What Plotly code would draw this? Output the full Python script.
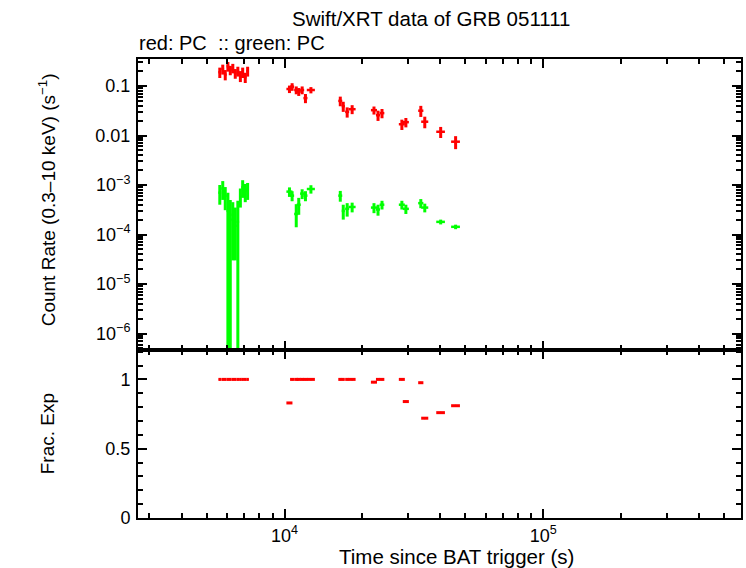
import plotly.graph_objects as go
import numpy as np

# ---------------- data ----------------
# time bins (s)
t_mid = [5620, 5770, 5900, 6040, 6170, 6310, 6450, 6600, 6750, 6890, 7050, 7200,
         10450, 10700, 11100, 11350, 11700, 12050, 12650,
         16430, 16870, 17470, 18260,
         22180, 22990, 23820,
         28430, 29460,
         33650, 34860,
         40160, 45870]
t_half = [70, 70, 70, 70, 70, 70, 75, 75, 75, 80, 80, 80,
          282, 193, 200, 204, 211, 217, 455,
          290, 230, 310, 570,
          600, 420, 500,
          760, 800,
          780, 1100,
          1550, 1800]

# red: PC count rate
red_rate = [0.19, 0.22, 0.17, 0.25, 0.21, 0.23, 0.18, 0.20, 0.16, 0.19, 0.15, 0.20,
            0.087, 0.097, 0.083, 0.077, 0.083, 0.057, 0.083,
            0.050, 0.039, 0.030, 0.034,
            0.0325, 0.0257, 0.0283,
            0.0169, 0.0186,
            0.0317, 0.0190,
            0.0119, 0.0075]
red_err = [0.045, 0.05, 0.04, 0.055, 0.045, 0.05, 0.04, 0.045, 0.04, 0.045, 0.035, 0.045,
           0.015, 0.017, 0.015, 0.014, 0.015, 0.012, 0.012,
           0.011, 0.009, 0.007, 0.007,
           0.006, 0.006, 0.006,
           0.004, 0.004,
           0.008, 0.005,
           0.003, 0.0022]

# green: PC
green_rate = [7.0e-4, 8.5e-4, 6.1e-4, 3.0e-4, 2.0e-4, 2.5e-4, 1.5e-4, 1.8e-4, 6.0e-4, 9.0e-4, 7.5e-4, 8.0e-4,
              7.35e-4, 6.1e-4, 2.6e-4, 4.0e-4, 6.7e-4, 6.1e-4, 8.3e-4,
              6.1e-4, 3.0e-4, 3.3e-4, 3.6e-4,
              3.5e-4, 3.2e-4, 4.0e-4,
              4.0e-4, 3.3e-4,
              4.3e-4, 3.5e-4,
              1.8e-4, 1.43e-4]
green_err_hi = [3.0e-4, 3.5e-4, 3.0e-4, 4.0e-4, 3.0e-4, 2.0e-4, 2.0e-4, 3.0e-4, 2.5e-4, 3.5e-4, 3.0e-4, 3.0e-4,
                1.6e-4, 1.4e-4, 1.5e-4, 1.5e-4, 1.5e-4, 1.4e-4, 1.6e-4,
                1.5e-4, 1.0e-4, 1.0e-4, 0.8e-4,
                0.8e-4, 0.8e-4, 0.8e-4,
                0.8e-4, 0.7e-4,
                0.9e-4, 0.7e-4,
                0.2e-4, 0.15e-4]
green_err_lo = [3.0e-4, 3.5e-4, 3.0e-4, 9.0e-4, 9.0e-4, 2.2e-4, 1.2e-4, 9.0e-4, 2.5e-4, 3.5e-4, 3.0e-4, 3.0e-4,
                1.6e-4, 1.4e-4, 1.2e-4, 1.5e-4, 1.5e-4, 1.4e-4, 1.6e-4,
                1.5e-4, 1.0e-4, 1.0e-4, 0.8e-4,
                0.8e-4, 0.8e-4, 0.8e-4,
                0.8e-4, 0.7e-4,
                0.9e-4, 0.7e-4,
                0.2e-4, 0.15e-4]

# fractional exposure
frac_exp = [1, 1, 1, 1, 1, 1, 1, 1, 1, 1, 1, 1,
            0.83, 1, 1, 1, 1, 1, 1,
            1, 1, 1, 1,
            0.98, 1, 1,
            1, 0.84,
            0.976, 0.72,
            0.76, 0.81]

x_tickvals = [1e4, 1e5]
x_ticktext = ["10<sup>4</sup>", "10<sup>5</sup>"]
y_tickvals = [0.1, 0.01, 1e-3, 1e-4, 1e-5, 1e-6]
y_ticktext = ["0.1", "0.01", "10<sup>−3</sup>", "10<sup>−4</sup>", "10<sup>−5</sup>", "10<sup>−6</sup>"]

# ---------------- figure ----------------
RED = "#ff0000"
GREEN = "#00ff00"
FONT = "Liberation Sans, Arial, Helvetica, sans-serif"

fig = go.Figure()

fig.add_trace(go.Scatter(
    x=t_mid, y=green_rate, mode="markers", xaxis="x", yaxis="y",
    marker=dict(color=GREEN, size=2),
    error_x=dict(type="data", array=t_half, color=GREEN, thickness=2.5, width=0),
    error_y=dict(type="data", symmetric=False, array=green_err_hi, arrayminus=green_err_lo,
                 color=GREEN, thickness=3, width=0),
    showlegend=False, hoverinfo="skip"))

fig.add_trace(go.Scatter(
    x=t_mid, y=red_rate, mode="markers", xaxis="x", yaxis="y",
    marker=dict(color=RED, size=2),
    error_x=dict(type="data", array=t_half, color=RED, thickness=2.5, width=0),
    error_y=dict(type="data", array=red_err, color=RED, thickness=3, width=0),
    showlegend=False, hoverinfo="skip"))

fig.add_trace(go.Scatter(
    x=t_mid, y=frac_exp, mode="markers", xaxis="x2", yaxis="y2",
    marker=dict(color=RED, size=2),
    error_x=dict(type="data", array=t_half, color=RED, thickness=3, width=0),
    showlegend=False, hoverinfo="skip"))

def minor_log(lo_exp, hi_exp):
    vals = []
    for e in range(lo_exp, hi_exp + 1):
        for m in range(2, 10):
            vals.append(m * 10.0 ** e)
    return vals

xmin_log, xmax_log = 3.4335, 5.765
split = 168 / 459

axis_common = dict(showline=True, linewidth=2, linecolor="black", mirror="allticks",
                   ticks="inside", ticklen=9, tickwidth=2, tickcolor="black",
                   showgrid=False, zeroline=False,
                   tickfont=dict(family=FONT, size=18, color="black"))

fig.update_layout(
    width=746, height=568,
    margin=dict(l=138, r=3, t=59, b=50),
    paper_bgcolor="white", plot_bgcolor="white",
    font=dict(family=FONT, color="black"),
    xaxis=dict(type="log", range=[xmin_log, xmax_log], domain=[0, 1], anchor="y",
               tickvals=x_tickvals, showticklabels=False,
               minor=dict(tickmode="array", tickvals=minor_log(3, 5), ticks="inside",
                          ticklen=5, tickwidth=2, tickcolor="black", showgrid=False),
               **axis_common),
    xaxis2=dict(type="log", range=[xmin_log, xmax_log], domain=[0, 1], anchor="y2",
                matches="x", tickvals=x_tickvals, ticktext=x_ticktext,
                minor=dict(tickmode="array", tickvals=minor_log(3, 5), ticks="inside",
                           ticklen=5, tickwidth=2, tickcolor="black", showgrid=False),
                **axis_common),
    yaxis=dict(type="log", range=[-6.333, -0.4545], domain=[split, 1], anchor="x",
               tickvals=y_tickvals, ticktext=y_ticktext, ticklabelstandoff=2,
               minor=dict(tickmode="array", tickvals=minor_log(-7, -1), ticks="inside",
                          ticklen=5, tickwidth=2, tickcolor="black", showgrid=False),
               **axis_common),
    yaxis2=dict(range=[0, 1.212], domain=[0, split], anchor="x2",
                tickvals=[0, 0.5, 1], ticktext=["0", "0.5", "1"], ticklabelstandoff=2,
                minor=dict(tickmode="array", tickvals=[0.1, 0.2, 0.3, 0.4, 0.6, 0.7, 0.8, 0.9, 1.1, 1.2],
                           ticks="inside", ticklen=5, tickwidth=2, tickcolor="black", showgrid=False),
                **axis_common),
)

def px_x(px):
    return (px - 138) / 605.0

def px_y(py):
    return (518 - py) / 459.0

annotations = [
    dict(text="Swift/XRT data of GRB 051111", x=px_x(432), y=px_y(19),
         xanchor="center", yanchor="middle", font=dict(size=20.5)),
    dict(text="red: PC  :: green: PC", x=px_x(137), y=px_y(43),
         xanchor="left", yanchor="middle", font=dict(size=20)),
    dict(text="Time since BAT trigger (s)", x=px_x(458), y=px_y(556),
         xanchor="center", yanchor="middle", font=dict(size=20.5)),
    dict(text="Count Rate (0.3–10 keV) (s<sup>−1</sup>)", x=px_x(47), y=px_y(200),
         xanchor="center", yanchor="middle", textangle=-90, font=dict(size=19)),
    dict(text="Frac. Exp", x=px_x(47), y=px_y(434),
         xanchor="center", yanchor="middle", textangle=-90, font=dict(size=19)),
]
for a in annotations:
    a.update(xref="paper", yref="paper", showarrow=False)
    a["font"].update(family=FONT, color="black")
fig.update_layout(annotations=annotations)

fig.write_html("out.html")
